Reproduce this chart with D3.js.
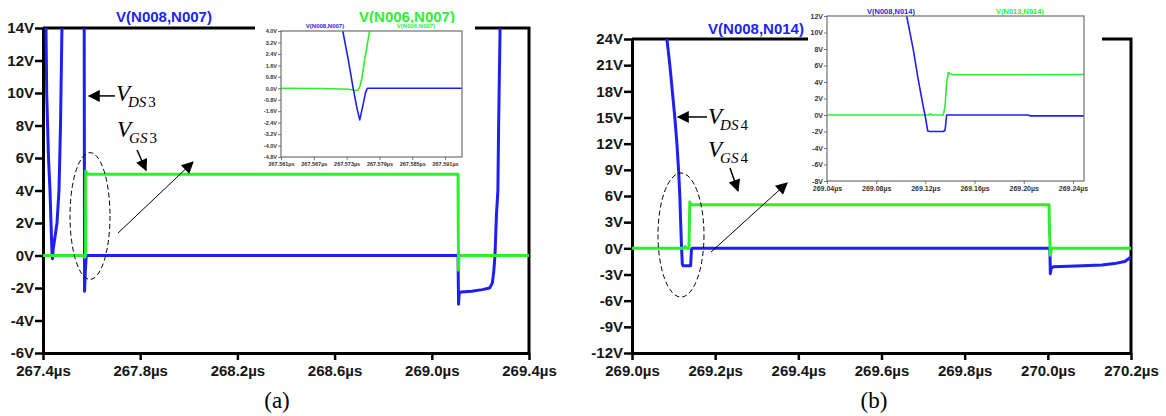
<!DOCTYPE html>
<html>
<head>
<meta charset="utf-8">
<script src="https://cdn.jsdelivr.net/npm/d3@7"></script>
<style>
  body { margin: 0; background: #fff; }
  svg { display: block; }
</style>
</head>
<body>
<svg id="fig" width="1166" height="416"></svg>
<script>
// ---------- Panel (a): MOSFET 3 waveforms ----------
const aTimeTicks = [267.4, 267.8, 268.2, 268.6, 269.0, 269.4];   // µs
const aVoltTicks = [-6, -4, -2, 0, 2, 4, 6, 8, 10, 12, 14];       // V
// V(N008,N007) = V_DS3, [time µs, volts]
const aVds = [
  [267.400, 22], [267.410, 18], [267.4123, 14], [267.4152, 10], [267.4226, 6],
  [267.4288, 4], [267.4329, 2], [267.437, 0.2], [267.439, -0.2], [267.442, 0.4],
  [267.4576, 2], [267.4658, 4], [267.472, 8], [267.476, 12], [267.478, 14],
  [267.481, 20], [267.565, 22], [267.5695, 14], [267.5705, 4], [267.571, -2.2],
  [267.574, -1.0], [267.578, 0], [269.108, 0], [269.110, -3.0], [269.113, -2.3],
  [269.120, -2.25], [269.164, -2.2], [269.208, -2.1], [269.238, -2.0],
  [269.249, -1.7], [269.255, -1.0], [269.260, 0], [269.266, 2.5], [269.272, 4],
  [269.275, 8], [269.278, 11], [269.281, 14], [269.284, 18], [269.290, 22], [269.400, 22]
];
// V(N006,N007) = V_GS3
const aVgs = [
  [267.400, 0], [267.565, 0], [267.572, -0.1], [267.575, 0], [267.576, 5.2],
  [267.585, 5.0], [269.108, 5.0], [269.109, 1.5], [269.110, -0.9], [269.112, 0],
  [269.400, 0]
];
// zoomed view of the first turn-on edge
const aInsetTimeTicks = [267.561, 267.567, 267.573, 267.579, 267.585, 267.591];
const aInsetVoltTicks = [-4.8, -4.0, -3.2, -2.4, -1.6, -0.8, 0.0, 0.8, 1.6, 2.4, 3.2, 4.0];
const aInsetVds = [
  [267.5718, 5.5], [267.5723, 4.0], [267.5733, 2.0], [267.5742, 0], [267.5749, -1.4],
  [267.5754, -2.21], [267.5760, -1.16], [267.5765, -0.23], [267.5768, 0],
  [267.5775, 0], [267.5941, 0]
];
const aInsetVgs = [
  [267.5610, 0], [267.5686, -0.02], [267.5734, -0.07], [267.5746, -0.16],
  [267.5751, -0.12], [267.5754, 0.1], [267.5758, 0.7], [267.5763, 2.0],
  [267.5768, 3.1], [267.5772, 4.0], [267.5776, 4.8]
];

// ---------- Panel (b): MOSFET 4 waveforms ----------
const bTimeTicks = [269.0, 269.2, 269.4, 269.6, 269.8, 270.0, 270.2];
const bVoltTicks = [-12, -9, -6, -3, 0, 3, 6, 9, 12, 15, 18, 21, 24];
// V(N008,N014) = V_DS4
const bVds = [
  [269.080, 27], [269.084, 24], [269.091, 21], [269.097, 18], [269.103, 15],
  [269.108, 12], [269.112, 9], [269.115, 6], [269.117, 3], [269.119, 0.3],
  [269.121, -1.8], [269.123, -2.0], [269.141, -2.0], [269.143, -0.1], [269.145, 0],
  [270.005, 0], [270.006, -2.9], [270.008, -2.3], [270.013, -2.1], [270.050, -2.05],
  [270.083, -2.0], [270.130, -1.9], [270.160, -1.75], [270.185, -1.5], [270.200, -1.0]
];
// V(N013,N014) = V_GS4
const bVgs = [
  [269.000, 0], [269.125, 0], [269.128, 0.2], [269.131, 0], [269.137, 0],
  [269.139, 5.3], [269.142, 5.0], [270.003, 5.0], [270.004, 2.0], [270.006, -0.8],
  [270.009, 0], [270.200, 0]
];
const bInsetTimeTicks = [269.04, 269.08, 269.12, 269.16, 269.20, 269.24];
const bInsetVoltTicks = [-8, -6, -4, -2, 0, 2, 4, 6, 8, 10, 12];
const bInsetVds = [
  [269.1035, 13.2], [269.1048, 12], [269.1102, 7.9], [269.1142, 4.3], [269.1183, 1.0],
  [269.1197, 0], [269.1219, -1.93], [269.1237, -2.0], [269.1346, -2.0],
  [269.1360, -1.85], [269.1373, 0], [269.2037, 0], [269.2050, -0.1], [269.2490, -0.1]
];
const bInsetVgs = [
  [269.0400, 0], [269.1224, 0], [269.1237, 0.12], [269.1256, 0], [269.1346, 0],
  [269.1360, 1.05], [269.1373, 3.9], [269.1386, 5.15], [269.1400, 5.0],
  [269.1427, 4.87], [269.2490, 4.9]
];

// annotation anchors in data units [time µs, volts]
const aNotes = {
  dsLabel: [267.700, 9.5], dsArrow: [[267.696, 9.82], [267.589, 9.82]],
  gsLabel: [267.7045, 7.29], gsArrow: [[267.787, 6.49], [267.824, 5.25]],
  ellipse: { c: [267.5934, 2.43], rt: 0.0823, rv: 3.9 },
  zoomArrow: [[267.7086, 1.38], [268.017, 5.75]],
  sub: "DS", sub2: "GS", idx: "3"
};
const bNotes = {
  dsLabel: [269.1828, 14.25], dsArrow: [[269.1804, 15.06], [269.1106, 15.06]],
  gsLabel: [269.1828, 10.47], gsArrow: [[269.2357, 9.2], [269.2549, 6.6]],
  ellipse: { c: [269.1178, 1.52], rt: 0.0553, rv: 7.11 },
  zoomArrow: [[269.190, -0.43], [269.3728, 7.49]],
  sub: "DS", sub2: "GS", idx: "4"
};

const BLUE = "#1f1ff2", GREEN = "#2eef2e", INK = "#161616";
const SANS = "'Liberation Sans', Arial, sans-serif";
const SERIF = "'Liberation Serif', 'Times New Roman', serif";

const svg = d3.select("#fig");
const defs = svg.append("defs");
defs.append("marker").attr("id", "arrowHead")
  .attr("viewBox", "0 0 10 10").attr("refX", 9).attr("refY", 5)
  .attr("markerWidth", 9).attr("markerHeight", 7).attr("markerUnits", "userSpaceOnUse")
  .attr("orient", "auto")
  .append("path").attr("d", "M0,0 L10,5 L0,10 Z").attr("fill", "#000");
defs.append("marker").attr("id", "arrowHeadBig")
  .attr("viewBox", "0 0 10 10").attr("refX", 9).attr("refY", 5)
  .attr("markerWidth", 16).attr("markerHeight", 12).attr("markerUnits", "userSpaceOnUse")
  .attr("orient", "auto")
  .append("path").attr("d", "M0,0 L10,5 L0,10 Z").attr("fill", "#000");

function styleAxis(g, size, weight, color) {
  g.selectAll("text").attr("font-family", SANS).attr("font-size", size)
    .attr("font-weight", weight).attr("fill", color);
}

function drawPanel(p) {
  const x = d3.scaleLinear().domain(p.xDomain).range([p.left, p.right]);
  const y = d3.scaleLinear().domain(p.yDomain).range([p.bottom, p.top]);
  const g = svg.append("g");
  const clipId = "clip-" + p.id;
  defs.append("clipPath").attr("id", clipId).append("rect")
    .attr("x", p.left).attr("y", p.top)
    .attr("width", p.right - p.left).attr("height", p.bottom - p.top);

  // frame: top and right edges
  g.append("path")
    .attr("d", `M${p.left},${p.top} H${p.right} V${p.bottom}`)
    .attr("fill", "none").attr("stroke", "#000").attr("stroke-width", 3);

  const yAxis = g.append("g").attr("transform", `translate(${p.left},0)`)
    .call(d3.axisLeft(y).tickValues(p.yTicks).tickSize(8).tickSizeOuter(0).tickPadding(1)
      .tickFormat(d => d + "V"));
  const xAxis = g.append("g").attr("transform", `translate(0,${p.bottom})`)
    .call(d3.axisBottom(x).tickValues(p.xTicks).tickSize(7).tickSizeOuter(0).tickPadding(5)
      .tickFormat(d => d.toFixed(1) + "µs"));
  [yAxis, xAxis].forEach(a => {
    a.select(".domain").attr("stroke", "#000").attr("stroke-width", 3);
    a.selectAll(".tick line").attr("stroke", "#000").attr("stroke-width", 2.5);
    styleAxis(a, 15, "bold", INK);
  });

  const line = d3.line().x(d => x(d[0])).y(d => y(d[1]));
  const traces = g.append("g").attr("clip-path", `url(#${clipId})`);
  traces.append("path").datum(p.vds).attr("d", line)
    .attr("fill", "none").attr("stroke", BLUE).attr("stroke-width", 3)
    .attr("stroke-linejoin", "round");
  traces.append("path").datum(p.vgs).attr("d", line)
    .attr("fill", "none").attr("stroke", GREEN).attr("stroke-width", 3)
    .attr("stroke-linejoin", "round");

  // trace names
  p.titles.forEach(t => {
    g.append("text").attr("x", t.x).attr("y", t.y).attr("text-anchor", "middle")
      .attr("font-family", SANS).attr("font-size", 15).attr("font-weight", "bold")
      .attr("fill", t.color).text(t.text);
  });

  // annotations
  const n = p.notes;
  const lbl = (pos, sub) => {
    const t = g.append("text").attr("x", x(pos[0])).attr("y", y(pos[1]))
      .attr("font-family", SERIF).attr("fill", "#000");
    t.append("tspan").attr("font-size", 23).attr("font-style", "italic").text("V");
    t.append("tspan").attr("font-size", 15).attr("font-style", "italic")
      .attr("dy", 6).attr("dx", -2).text(sub);
    t.append("tspan").attr("font-size", 15).attr("dx", 2).text(n.idx);
  };
  lbl(n.dsLabel, n.sub);
  lbl(n.gsLabel, n.sub2);
  const arrow = (pts, marker, w) => g.append("line")
    .attr("x1", x(pts[0][0])).attr("y1", y(pts[0][1]))
    .attr("x2", x(pts[1][0])).attr("y2", y(pts[1][1]))
    .attr("stroke", "#000").attr("stroke-width", w)
    .attr("marker-end", `url(#${marker})`);
  arrow(n.dsArrow, "arrowHeadBig", 1.5);
  arrow(n.gsArrow, "arrowHeadBig", 1.5);
  arrow(n.zoomArrow, "arrowHeadBig", 1);
  const e = n.ellipse;
  g.append("ellipse")
    .attr("cx", x(e.c[0])).attr("cy", y(e.c[1]))
    .attr("rx", x(e.c[0] + e.rt) - x(e.c[0]))
    .attr("ry", y(e.c[1] - e.rv) - y(e.c[1]))
    .attr("fill", "none").attr("stroke", "#000").attr("stroke-width", 1)
    .attr("stroke-dasharray", "5,3");

  // caption
  g.append("text").attr("x", p.caption.x).attr("y", p.caption.y).attr("text-anchor", "middle")
    .attr("font-family", SERIF).attr("font-size", 23).attr("fill", "#000").text(p.caption.text);

  // zoom-in inset
  drawInset(p.inset);
}

function drawInset(q) {
  const g = svg.append("g");
  g.append("rect").attr("x", q.box[0]).attr("y", q.box[1])
    .attr("width", q.box[2] - q.box[0]).attr("height", q.box[3] - q.box[1])
    .attr("fill", "#fff");
  const x = d3.scaleLinear().domain(q.xDomain).range([q.left, q.right]);
  const y = d3.scaleLinear().domain(q.yDomain).range([q.bottom, q.top]);
  const clipId = "clip-" + q.id;
  defs.append("clipPath").attr("id", clipId).append("rect")
    .attr("x", q.left).attr("y", q.top)
    .attr("width", q.right - q.left).attr("height", q.bottom - q.top);

  const line = d3.line().x(d => x(d[0])).y(d => y(d[1]));
  const tr = g.append("g").attr("clip-path", `url(#${clipId})`);
  tr.append("path").datum(q.vgs).attr("d", line).attr("fill", "none")
    .attr("stroke", GREEN).attr("stroke-width", 1.6).attr("stroke-linejoin", "round");
  tr.append("path").datum(q.vds).attr("d", line).attr("fill", "none")
    .attr("stroke", BLUE).attr("stroke-width", 1.6).attr("stroke-linejoin", "round");

  g.append("rect").attr("x", q.left).attr("y", q.top)
    .attr("width", q.right - q.left).attr("height", q.bottom - q.top)
    .attr("fill", "none").attr("stroke", "#7a7a7a").attr("stroke-width", 1.3);

  const ya = g.append("g").attr("transform", `translate(${q.left},0)`)
    .call(d3.axisLeft(y).tickValues(q.yTicks).tickSize(3).tickSizeOuter(0).tickPadding(1)
      .tickFormat(q.yFmt));
  const xa = g.append("g").attr("transform", `translate(0,${q.bottom})`)
    .call(d3.axisBottom(x).tickValues(q.xTicks).tickSize(3).tickSizeOuter(0).tickPadding(2)
      .tickFormat(q.xFmt));
  [ya, xa].forEach(a => {
    a.select(".domain").remove();
    a.selectAll(".tick line").attr("stroke", "#555").attr("stroke-width", 0.8);
    styleAxis(a, q.font, "bold", "#333");
  });
  q.titles.forEach(t => {
    g.append("text").attr("x", t.x).attr("y", t.y).attr("text-anchor", "middle")
      .attr("font-family", SANS).attr("font-size", q.font + 0.5).attr("font-weight", "bold")
      .attr("fill", t.color).text(t.text);
  });
}

drawPanel({
  id: "a", left: 43, right: 529, top: 28, bottom: 353,
  xDomain: [267.4, 269.4], yDomain: [-6, 14],
  xTicks: aTimeTicks, yTicks: aVoltTicks, vds: aVds, vgs: aVgs,
  titles: [
    { text: "V(N008,N007)", x: 164, y: 22, color: BLUE },
    { text: "V(N006,N007)", x: 407, y: 22, color: GREEN }
  ],
  notes: aNotes,
  caption: { text: "(a)", x: 277, y: 408 },
  inset: {
    id: "ai", box: [255, 23, 475, 170],
    left: 281, right: 462, top: 31, bottom: 157,
    xDomain: [267.561, 267.5941], yDomain: [-4.8, 4.0],
    xTicks: aInsetTimeTicks, yTicks: aInsetVoltTicks,
    xFmt: d => d.toFixed(3) + "µs", yFmt: d => d.toFixed(1) + "V",
    vds: aInsetVds, vgs: aInsetVgs, font: 5.5,
    titles: [
      { text: "V(N008,N007)", x: 325, y: 28, color: BLUE },
      { text: "V(N006,N007)", x: 416, y: 28, color: GREEN }
    ]
  }
});

drawPanel({
  id: "b", left: 632, right: 1131, top: 39, bottom: 353,
  xDomain: [269.0, 270.2], yDomain: [-12, 24],
  xTicks: bTimeTicks, yTicks: bVoltTicks, vds: bVds, vgs: bVgs,
  titles: [
    { text: "V(N008,N014)", x: 756, y: 34, color: BLUE }
  ],
  notes: bNotes,
  caption: { text: "(b)", x: 874, y: 408 },
  inset: {
    id: "bi", box: [808, 3, 1102, 197],
    left: 827, right: 1084, top: 16, bottom: 181,
    xDomain: [269.04, 269.249], yDomain: [-8, 12],
    xTicks: bInsetTimeTicks, yTicks: bInsetVoltTicks,
    xFmt: d => d.toFixed(2) + "µs", yFmt: d => d + "V",
    vds: bInsetVds, vgs: bInsetVgs, font: 7,
    titles: [
      { text: "V(N008,N014)", x: 891, y: 14, color: BLUE },
      { text: "V(N013,N014)", x: 1020, y: 14, color: GREEN }
    ]
  }
});
</script>
</body>
</html>
